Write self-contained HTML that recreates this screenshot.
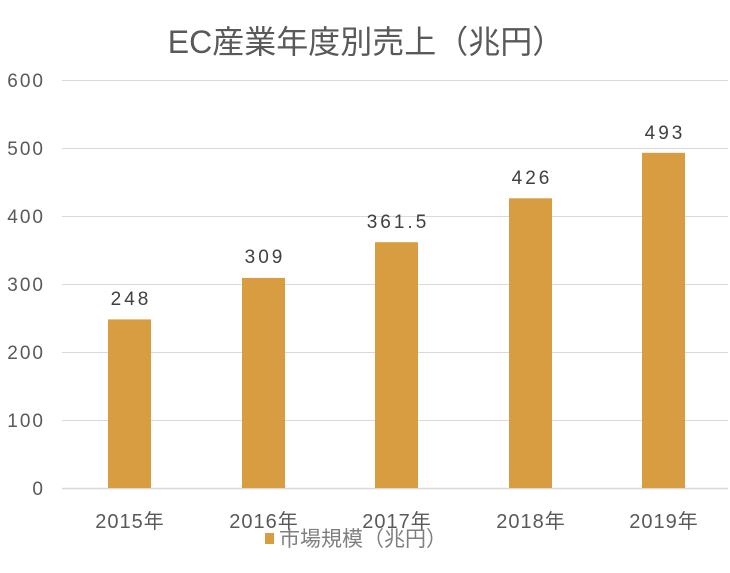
<!DOCTYPE html>
<html><head><meta charset="utf-8"><style>
body{margin:0;background:#fff;}
svg text{font-family:"Liberation Sans","Noto Sans CJK JP",sans-serif;}
</style></head><body>
<svg width="730" height="568" viewBox="0 0 730 568" xmlns="http://www.w3.org/2000/svg">
<rect width="730" height="568" fill="#fff"/>
<text x="366" y="53" text-anchor="middle" font-size="32" fill="#595959">EC産業年度別売上（兆円）</text>
<g stroke="#d9d9d9" stroke-width="1">
<line x1="62" y1="80.5" x2="728" y2="80.5"/>
<line x1="62" y1="148.5" x2="728" y2="148.5"/>
<line x1="62" y1="216.5" x2="728" y2="216.5"/>
<line x1="62" y1="284.5" x2="728" y2="284.5"/>
<line x1="62" y1="352.5" x2="728" y2="352.5"/>
<line x1="62" y1="420.5" x2="728" y2="420.5"/>
<line x1="62" y1="488.5" x2="728" y2="488.5" stroke-width="1.5"/>
</g>
<g font-size="19" fill="#595959" text-anchor="end" letter-spacing="2">
<text x="45" y="87">600</text><text x="45" y="155">500</text><text x="45" y="223">400</text>
<text x="45" y="291">300</text><text x="45" y="359">200</text><text x="45" y="427">100</text><text x="45" y="495">0</text>
</g>
<g fill="#d89d40">
<rect x="108" y="319.4" width="43" height="168.6"/>
<rect x="242" y="277.9" width="43" height="210.1"/>
<rect x="375" y="242.2" width="43" height="245.8"/>
<rect x="509" y="198.3" width="43" height="289.7"/>
<rect x="642" y="152.8" width="43" height="335.2"/>
</g>
<g font-size="19" fill="#404040" text-anchor="middle" letter-spacing="3">
<text x="131" y="305">248</text><text x="265" y="263">309</text><text x="398" y="228">361.5</text>
<text x="532" y="184">426</text><text x="665" y="139">493</text>
</g>
<g font-size="20" fill="#595959" text-anchor="middle" letter-spacing="1">
<text x="130" y="528">2015年</text><text x="264" y="528">2016年</text><text x="397" y="528">2017年</text>
<text x="531" y="528">2018年</text><text x="664" y="528">2019年</text>
</g>
<rect x="265" y="533" width="9" height="11" fill="#d89d40"/>
<text x="279" y="546" font-size="21" fill="#7f7f7f">市場規模（兆円）</text>
</svg>
</body></html>
